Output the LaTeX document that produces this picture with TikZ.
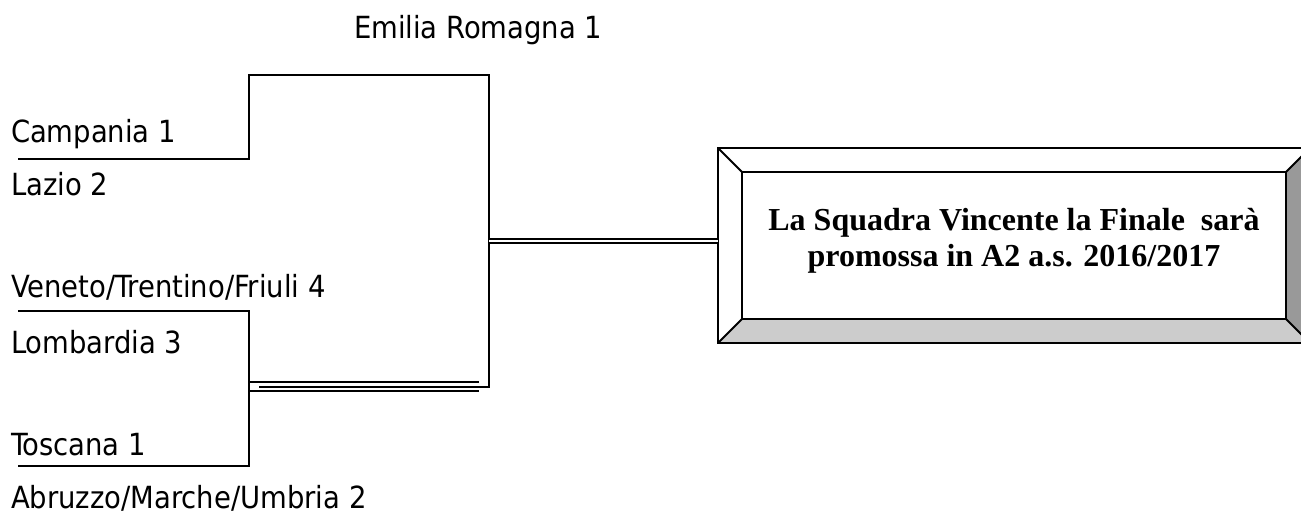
\documentclass[tikz,border=0pt]{standalone}
\usepackage{fontspec}
\setmainfont{Liberation Serif}
\newfontfamily\teamfont{DejaVu Sans Condensed}
\usetikzlibrary{calc}
\begin{document}
\begin{tikzpicture}[x=1pt,y=-1pt,line width=2pt,
	team/.style={anchor=base west,inner sep=0pt,font=\teamfont\fontsize{30.5}{36}\selectfont},
	twin/.style={draw=black,line width=1.8pt,double=white,double distance=#1}]
	\useasboundingbox (0,0) rectangle (1301,515);
	\clip (0,0) rectangle (1301,515);
	% teams
	\node (ER) at (353, 38)	[team]	{Emilia Romagna 1};
	\node (CA) at ( 10,142)	[team]	{Campania 1};
	\node (LA) at ( 10,195)	[team]	{Lazio 2};
	\node (VE) at ( 10,297)	[team]	{Veneto/Trentino/Friuli 4};
	\node (LO) at ( 10,353)	[team]	{Lombardia 3};
	\node (TO) at ( 10,455)	[team]	{Toscana 1};
	\node (AB) at ( 10,508)	[team]	{Abruzzo/Marche/Umbria 2};
	% bracket corners
	\coordinate (Q1) at ( 18,159);
	\coordinate (S1) at (249,159);
	\coordinate (S1t) at (249, 75);
	\coordinate (F1) at (489, 75);
	\coordinate (F1b) at (489,387);
	\coordinate (F1e) at (259,387);
	\coordinate (Q2) at ( 18,311);
	\coordinate (S2) at (249,311);
	\coordinate (S2b) at (249,466);
	\coordinate (Q3) at ( 18,466);
	\coordinate (M1) at (249,386.5);
	\coordinate (M2) at (479,386.5);
	\coordinate (W) at (489,241);
	% final box
	\node (final) at (1014,245.5)	[minimum width=542pt, minimum height=145pt, inner sep=0pt]	{};
	\coordinate (onw) at ($(final.north west)+(-24,-24)$);
	\coordinate (one) at ($(final.north east)+( 24,-24)$);
	\coordinate (osw) at ($(final.south west)+(-24, 24)$);
	\coordinate (ose) at ($(final.south east)+( 24, 24)$);
	\fill[black!20] (osw) -- (final.south west) -- (final.south east) -- (ose) -- cycle;
	\fill[black!40] (final.south east) -- (final.north east) -- (one) -- (ose) -- cycle;
	\draw (onw) rectangle (ose);
	\draw (final.north west) rectangle (final.south east);
	\draw (onw) -- (final.north west);
	\draw (one) -- (final.north east);
	\draw (osw) -- (final.south west);
	\draw (ose) -- (final.south east);
	\node (FT) at (1014,207)	[anchor=north, inner sep=0pt, align=center, font=\bfseries\fontsize{32}{36}\selectfont]
		{La Squadra Vincente la Finale~ sarà\\promossa in A2 a.s. 2016/2017};
	% links
	\draw[twin=7.2pt] (M1) -- (M2);
	\draw (Q1) -- (S1) -- (S1t) -- (F1) -- (F1b) -- (F1e);
	\draw (Q2) -- (S2) -- (S2b) -- (Q3);
	\draw[twin=2.4pt] (W) -- (W -| onw);
\end{tikzpicture}
\end{document}
